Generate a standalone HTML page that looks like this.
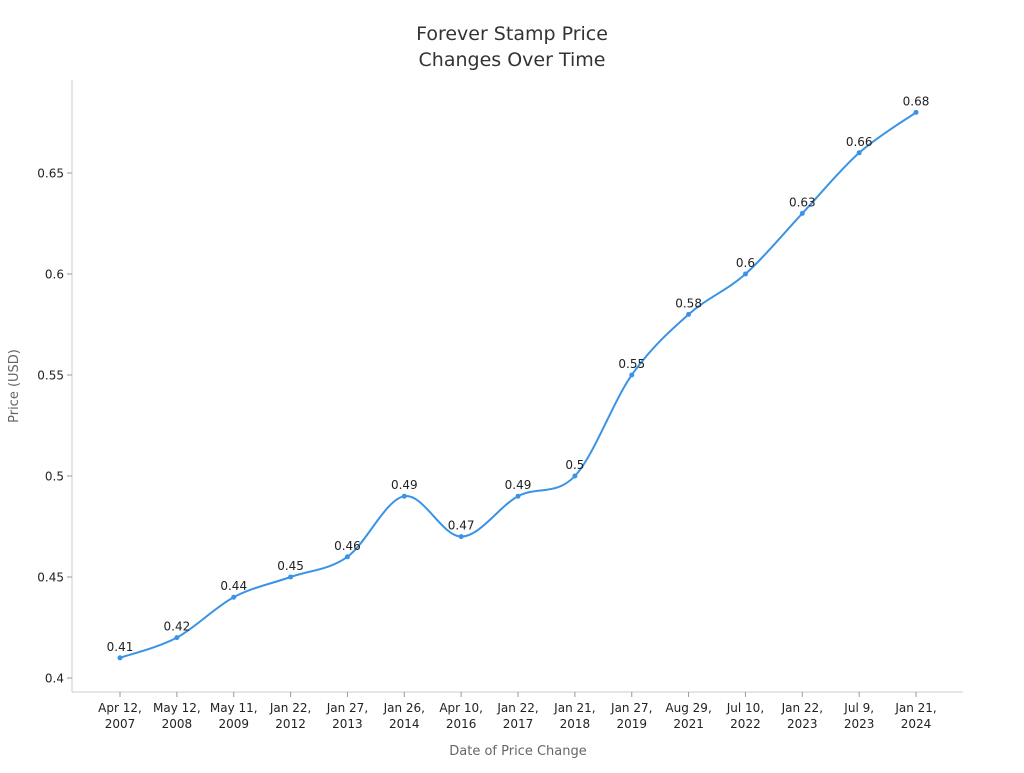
<!DOCTYPE html>
<html><head><meta charset="utf-8"><style>
body{margin:0;background:#fff;}
svg text{font-family:"DejaVu Sans","Liberation Sans",sans-serif;}
</style></head><body>
<svg id="s" width="1024" height="768" xmlns="http://www.w3.org/2000/svg">
<text x="512" y="40" text-anchor="middle" font-size="19" fill="#333">Forever Stamp Price</text>
<text x="512" y="66" text-anchor="middle" font-size="19" fill="#333">Changes Over Time</text>
<line x1="72" y1="80" x2="72" y2="692" stroke="#ccc"/>
<line x1="72" y1="692" x2="963" y2="692" stroke="#ccc"/>
<text x="18" y="386" text-anchor="middle" font-size="13" fill="#666" transform="rotate(-90 18 386)">Price (USD)</text>
<text x="518" y="755" text-anchor="middle" font-size="13" fill="#666">Date of Price Change</text>
<g id="g"></g>
</svg>
<script>
var vals=[0.41,0.42,0.44,0.45,0.46,0.49,0.47,0.49,0.5,0.55,0.58,0.6,0.63,0.66,0.68];
var labs=[["Apr 12,","2007"],["May 12,","2008"],["May 11,","2009"],["Jan 22,","2012"],["Jan 27,","2013"],["Jan 26,","2014"],["Apr 10,","2016"],["Jan 22,","2017"],["Jan 21,","2018"],["Jan 27,","2019"],["Aug 29,","2021"],["Jul 10,","2022"],["Jan 22,","2023"],["Jul 9,","2023"],["Jan 21,","2024"]];
function X(i){return 120+i*56.86;}
function Y(v){return 678-(v-0.4)*2020;}
var h='';
[0.4,0.45,0.5,0.55,0.6,0.65].forEach(function(t){var y=Y(t);
h+='<line x1="67" x2="72" y1="'+y+'" y2="'+y+'" stroke="#999"/>';
h+='<text x="64" y="'+(y+4.5)+'" text-anchor="end" font-size="12" fill="#222">'+t+'</text>';});
var p=vals.map(function(v,i){return [X(i),Y(v)];});
var d='M'+p[0][0]+','+p[0][1];
for(var i=0;i<p.length-1;i++){var p0=p[i-1]||p[i],p1=p[i],p2=p[i+1],p3=p[i+2]||p2;
d+=' C'+(p1[0]+(p2[0]-p0[0])/6)+','+(p1[1]+(p2[1]-p0[1])/6)+' '+(p2[0]-(p3[0]-p1[0])/6)+','+(p2[1]-(p3[1]-p1[1])/6)+' '+p2[0]+','+p2[1];}
h+='<path d="'+d+'" fill="none" stroke="#3a93e6" stroke-width="2"/>';
p.forEach(function(q,i){
h+='<circle cx="'+q[0]+'" cy="'+q[1]+'" r="2.5" fill="#3a93e6"/>';
h+='<text x="'+q[0]+'" y="'+(q[1]-7)+'" text-anchor="middle" font-size="12" fill="#222">'+vals[i]+'</text>';
h+='<line x1="'+q[0]+'" x2="'+q[0]+'" y1="692" y2="697" stroke="#999"/>';
h+='<text x="'+q[0]+'" y="712" text-anchor="middle" font-size="12" fill="#222">'+labs[i][0]+'</text>';
h+='<text x="'+q[0]+'" y="728" text-anchor="middle" font-size="12" fill="#222">'+labs[i][1]+'</text>';});
document.getElementById('g').innerHTML=h;
</script>
</body></html>
